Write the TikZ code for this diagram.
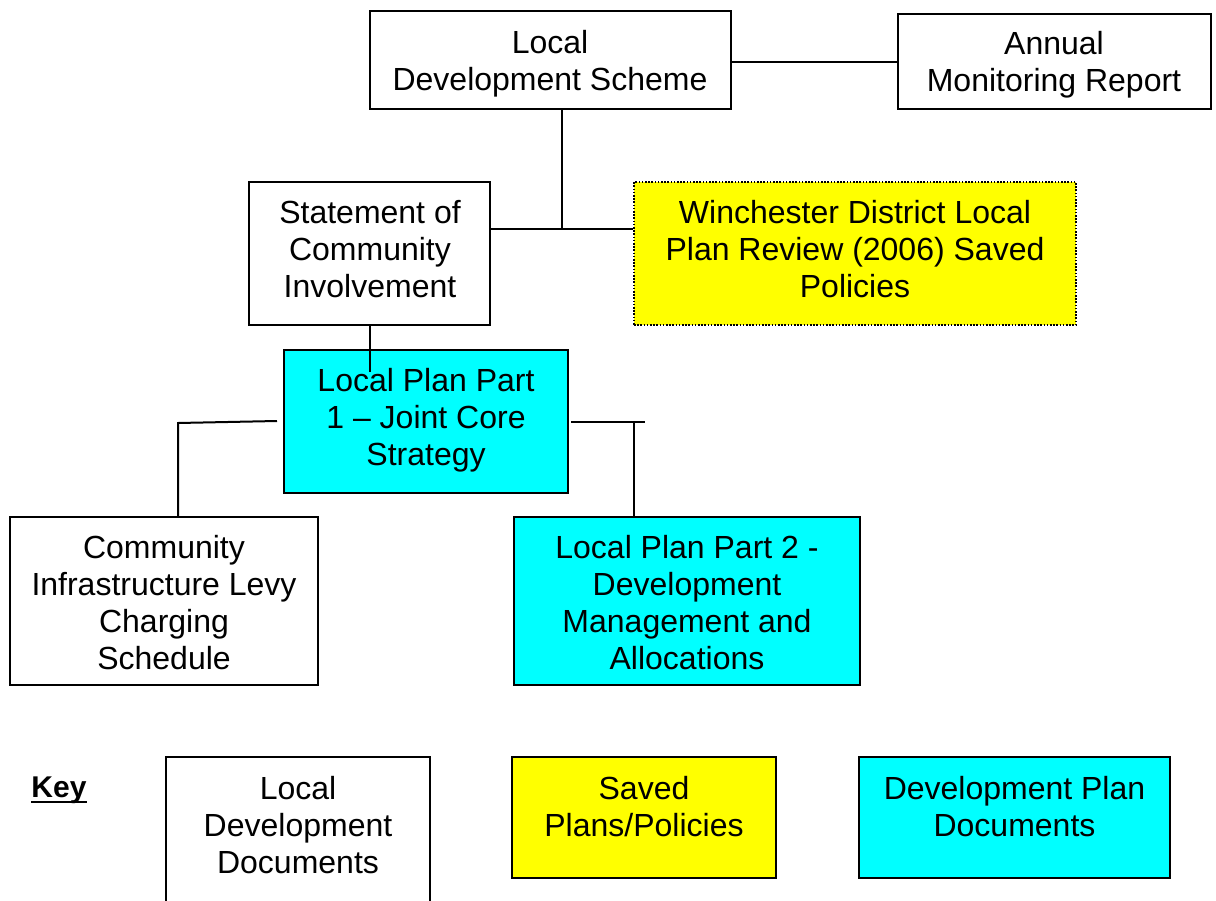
\documentclass[tikz,border=0pt]{standalone}
\usepackage{fontspec}
\setmainfont{Liberation Sans}
\definecolor{aqua}{RGB}{0,255,255}
\definecolor{yel}{RGB}{255,255,0}
\begin{document}
\begin{tikzpicture}[x=1pt,y=-1pt,
  box/.style={draw=black,line width=1.8pt,inner sep=0pt},
  wbox/.style={box,fill=white},
  ybox/.style={box,fill=yel},
  cbox/.style={box,fill=aqua},
  dotbox/.style={ybox,line width=2pt,dash pattern=on 1.6pt off 1.6pt},
  txt/.style={align=center,font=\fontsize{32}{37}\selectfont,inner sep=0pt},
  conn/.style={draw=black,line width=2pt}]
\clip (0,0) rectangle (1216,900);
\useasboundingbox (0,0) rectangle (1216,900);
\fill[white] (0,0) rectangle (1216,900);
% boxes
\node[wbox,minimum width=361,minimum height=98] (lds) at (550.5,60) {};
\node[wbox,minimum width=313,minimum height=95] (amr) at (1054.5,61.5) {};
\node[wbox,minimum width=241,minimum height=143] (sci) at (369.5,253.5) {};
\node[dotbox,minimum width=442,minimum height=143] (win) at (855,253.5) {};
\node[cbox,minimum width=284,minimum height=143] (lp1) at (426,421.5) {};
\node[wbox,minimum width=308,minimum height=168] (cil) at (164,601) {};
\node[cbox,minimum width=346,minimum height=168] (lp2) at (687,601) {};
\node[wbox,minimum width=264,minimum height=160] (k1) at (298,837) {};
\node[ybox,minimum width=264,minimum height=121] (k2) at (644,817.5) {};
\node[cbox,minimum width=311,minimum height=121] (k3) at (1014.5,817.5) {};
% texts
\node[txt] (tlds) at (550,63.5) {Local\\Development Scheme};
\node[txt] (tamr) at (1054,65) {Annual\\Monitoring Report};
\node[txt] (tsci) at (370,249) {Statement of\\Community\\Involvement};
\node[txt] (twin) at (855,249) {Winchester District Local\\Plan Review (2006) Saved\\Policies};
\node[txt] (tlp1) at (426,420) {Local Plan Part\\1 -- Joint Core\\Strategy};
\node[txt] (tcil) at (164,603) {Community\\Infrastructure Levy\\Charging\\Schedule};
\node[txt] (tlp2) at (687,603) {Local Plan Part 2 -\\Development\\Management and\\Allocations};
\node[txt] (tk1) at (298,825) {Local\\Development\\Documents};
\node[txt] (tk2) at (644,806.5) {Saved\\Plans/Policies};
\node[txt] (tk3) at (1014.5,806.5) {Development Plan\\Documents};
\node[txt,font=\fontsize{30}{34}\selectfont\bfseries] (key) at (59,790) {\sbox0{Key}\rlap{\rule[-6pt]{\wd0}{2.6pt}}\box0};
% connectors
\coordinate (j1) at (562,229);
\coordinate (c1) at (370,372);
\coordinate (l1) at (178,423);
\coordinate (l2) at (277,421);
\coordinate (r1) at (571,422);
\coordinate (r2) at (645,422);
\coordinate (r3) at (634,422);
\draw[conn] (lds.east |- amr.west) -- (amr.west);
\draw[conn] (lds.south -| j1) -- (j1);
\draw[conn] (sci.east |- j1) -- (win.west |- j1);
\draw[conn] (sci.south -| c1) -- (c1);
\draw[conn] (l2) -- (l1) -- (l1 |- cil.north);
\draw[conn] (r1) -- (r2);
\draw[conn] (r3) -- (r3 |- lp2.north);
\end{tikzpicture}
\end{document}
